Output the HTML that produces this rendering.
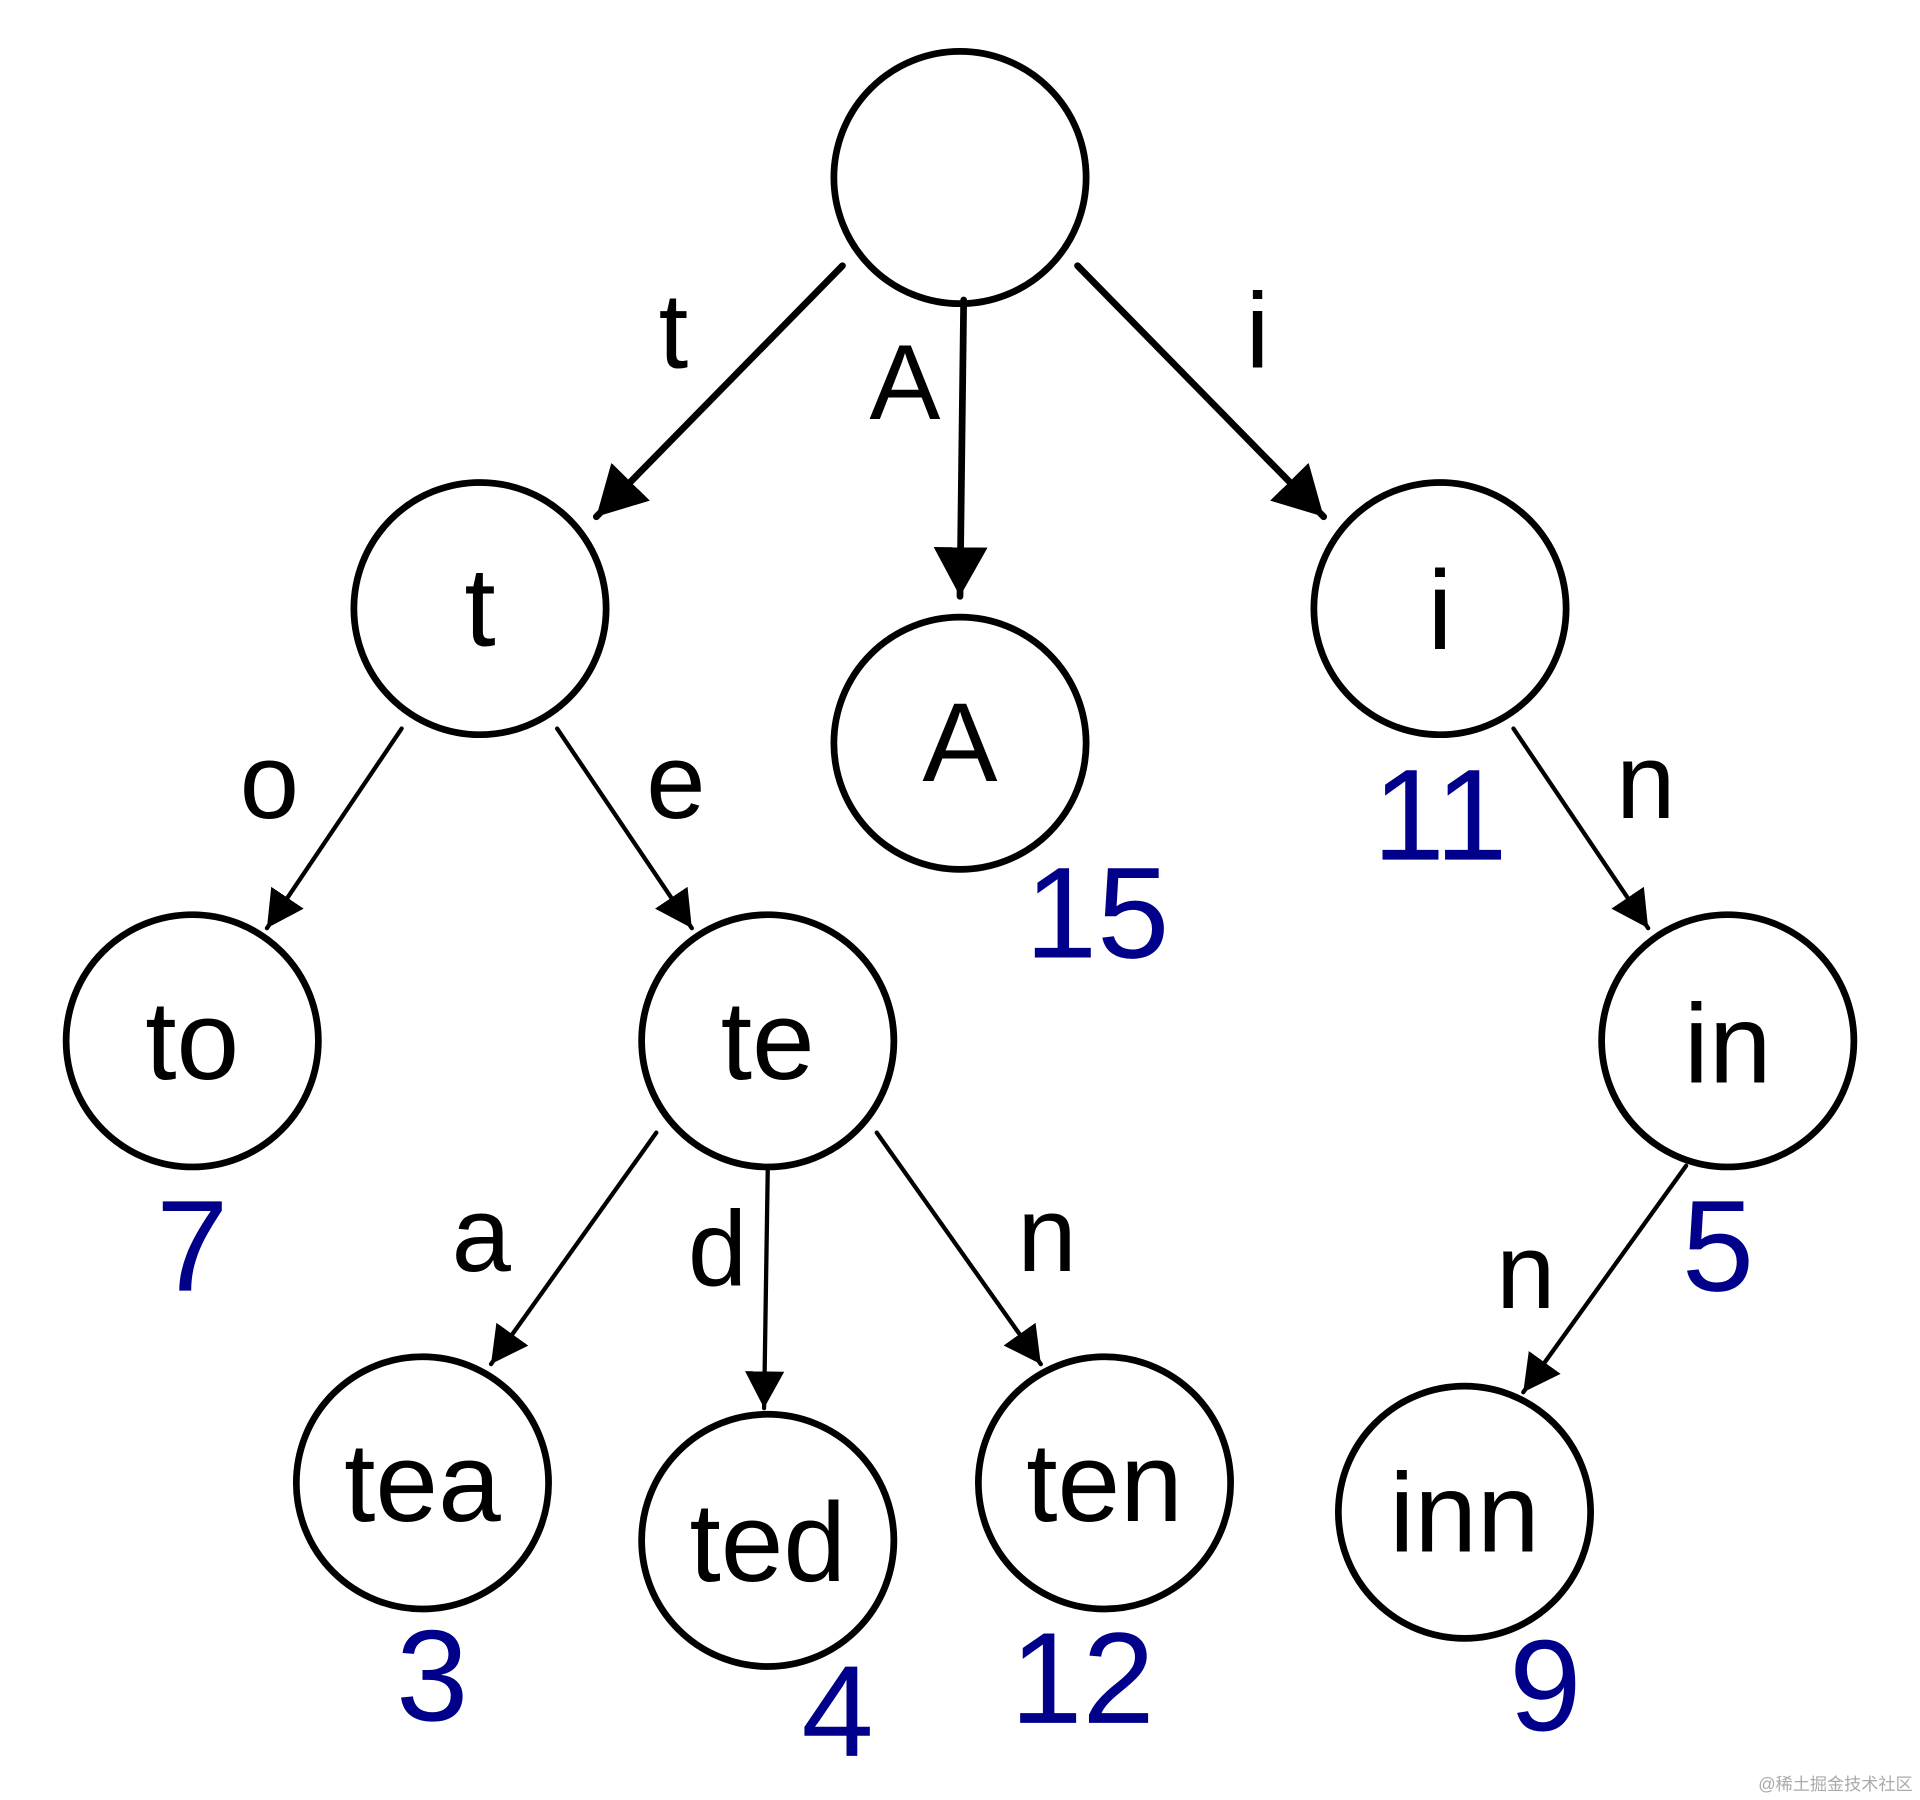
<!DOCTYPE html>
<html><head><meta charset="utf-8"><style>html,body{margin:0;padding:0;background:#fff}svg{display:block}</style></head>
<body>
<svg width="1920" height="1800" viewBox="0 0 1568 1470" xmlns="http://www.w3.org/2000/svg">
<defs>
<marker id="big" markerUnits="userSpaceOnUse" markerWidth="44" markerHeight="46" refX="40" refY="23" orient="auto"><path d="M0,1 L40,23 L0,45 Z" fill="#000"/></marker>
<marker id="sm" markerUnits="userSpaceOnUse" markerWidth="34" markerHeight="34" refX="30" refY="17" orient="auto"><path d="M0,1 L30,17 L0,33 Z" fill="#000"/></marker>
</defs>
<g fill="none" stroke="#000" stroke-linecap="round">
<g stroke-width="5.5">
<line x1="688" y1="217" x2="487" y2="422" marker-end="url(#big)"/>
<line x1="787" y1="245" x2="784" y2="487" marker-end="url(#big)"/>
<line x1="880" y1="217" x2="1081" y2="422" marker-end="url(#big)"/>
</g>
<g stroke-width="3.5">
<line x1="328" y1="595" x2="218" y2="758" marker-end="url(#sm)"/>
<line x1="455" y1="595" x2="565" y2="758" marker-end="url(#sm)"/>
<line x1="1236" y1="595" x2="1346" y2="758" marker-end="url(#sm)"/>
<line x1="536" y1="925" x2="401" y2="1114" marker-end="url(#sm)"/>
<line x1="627" y1="955" x2="624" y2="1150" marker-end="url(#sm)"/>
<line x1="716" y1="925" x2="850" y2="1114" marker-end="url(#sm)"/>
<line x1="1377" y1="952" x2="1244" y2="1137" marker-end="url(#sm)"/>
</g>
<g stroke-width="5.5">
<circle cx="784" cy="145" r="103"/>
<circle cx="392" cy="497" r="103"/>
<circle cx="784" cy="607" r="103"/>
<circle cx="1176" cy="497" r="103"/>
<circle cx="157" cy="850" r="103"/>
<circle cx="627" cy="850" r="103"/>
<circle cx="1411" cy="850" r="103"/>
<circle cx="345" cy="1211" r="103"/>
<circle cx="627" cy="1258" r="103"/>
<circle cx="902" cy="1211" r="103"/>
<circle cx="1196" cy="1235" r="103"/>
</g>
</g>
<g font-family="Liberation Sans, sans-serif" text-anchor="middle" fill="#000">
<g font-size="87">
<text x="550" y="300">t</text>
<text x="739" y="342">A</text>
<text x="1027" y="300">i</text>
<text x="220" y="668">o</text>
<text x="552" y="668">e</text>
<text x="1344" y="668">n</text>
<text x="393" y="1038">a</text>
<text x="586" y="1050">d</text>
<text x="855" y="1038">n</text>
<text x="1246" y="1068">n</text>
</g>
<g font-size="92">
<text x="392" y="527">t</text>
<text x="784" y="638">A</text>
<text x="1176" y="530">i</text>
<text x="157" y="881">to</text>
<text x="627" y="881">te</text>
<text x="1411" y="884">in</text>
<text x="345" y="1242">tea</text>
<text x="627" y="1291">ted</text>
<text x="902" y="1242">ten</text>
<text x="1196" y="1267">inn</text>
</g>
<g font-size="106" fill="#00008b">
<text x="896" y="782">15</text>
<text x="1176" y="702">11</text>
<text x="157" y="1054">7</text>
<text x="1403" y="1054">5</text>
<text x="353" y="1405">3</text>
<text x="684" y="1434">4</text>
<text x="884" y="1407">12</text>
<text x="1262" y="1413">9</text>
</g>
</g>
<text x="1562" y="1462" text-anchor="end" font-family="Liberation Sans, 'Noto Sans CJK SC', sans-serif" font-size="14" fill="#aaa">@稀土掘金技术社区</text>
</svg>
</body></html>
